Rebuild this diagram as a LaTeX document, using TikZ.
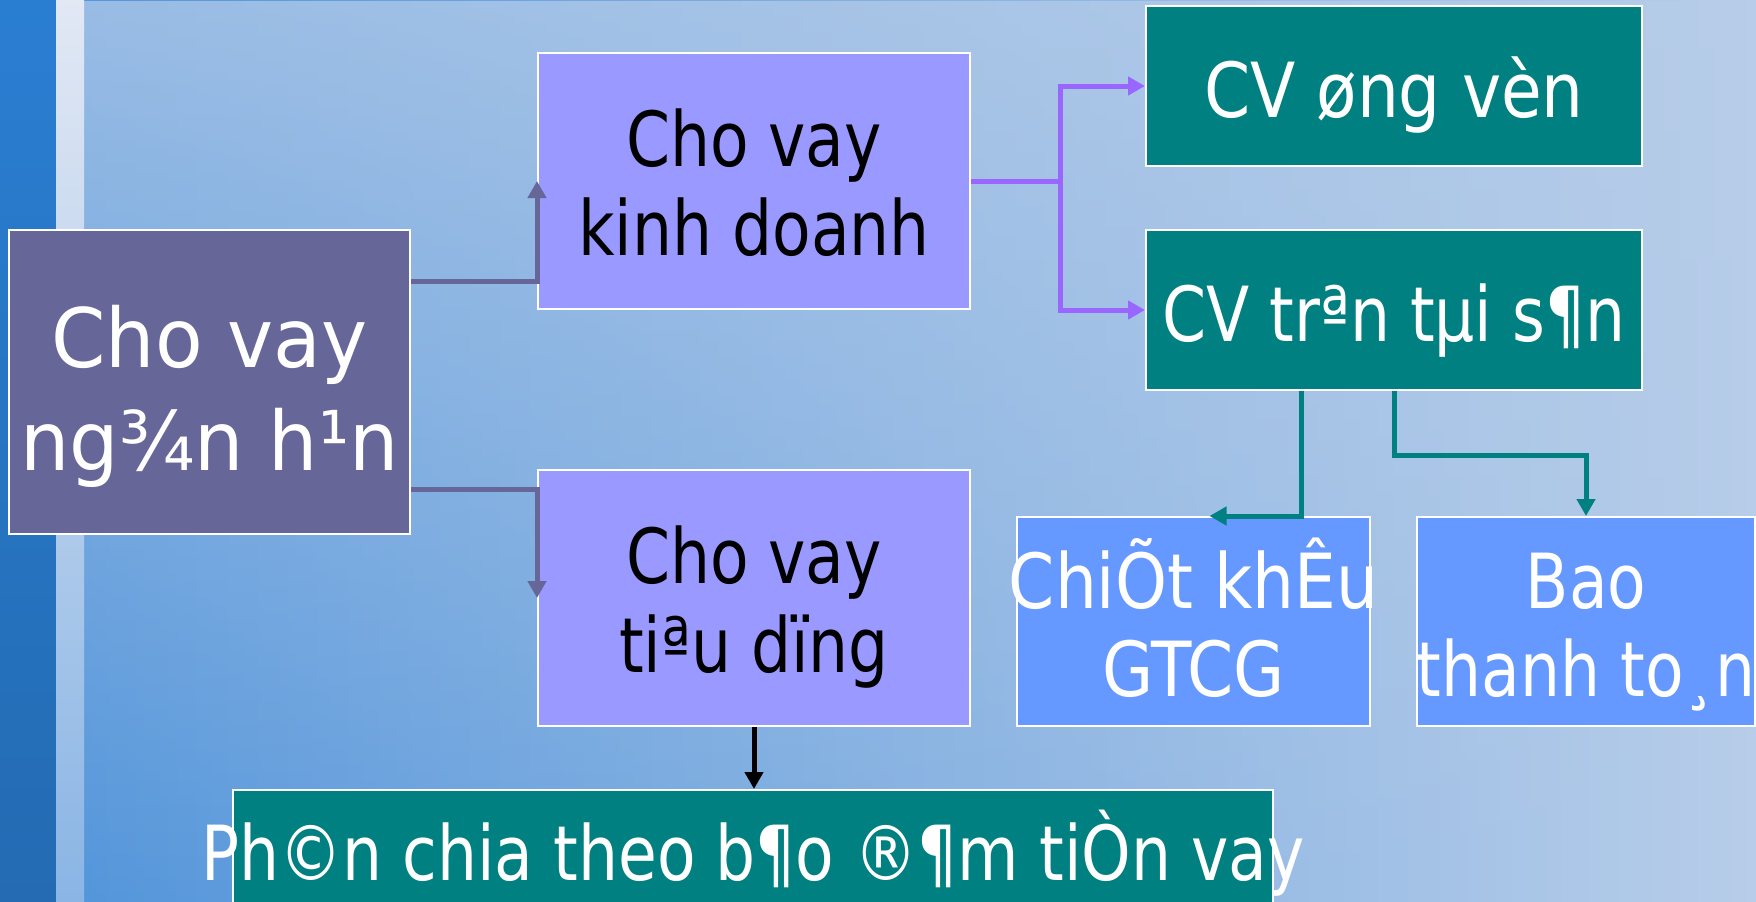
\documentclass[tikz,border=0pt]{standalone}
\usepackage{fontspec}
\setmainfont{DejaVu Sans}
\newfontfamily\wideface[FakeStretch=0.95]{DejaVu Sans}
\newfontfamily\midface[FakeStretch=0.87]{DejaVu Sans}
\newfontfamily\narrowface[FakeStretch=0.83]{DejaVu Sans}
\usetikzlibrary{calc, positioning, arrows.meta, fadings}
\definecolor{bgBand}{HTML}{2A7ED2}
\definecolor{bgDeep}{HTML}{4F93DA}
\definecolor{bgPale}{HTML}{B7CDE9}
\definecolor{stripeC}{HTML}{E2E8F4}
\definecolor{longC}{HTML}{666699}
\definecolor{loanC}{HTML}{9999FF}
\definecolor{tealC}{HTML}{008080}
\definecolor{skyC}{HTML}{6699FF}
\definecolor{violetC}{HTML}{9966FF}
\def\lwBox{1pt}
\def\lwLink{2.5pt}
\def\capFont{\fontsize{38}{44.5}\selectfont}

% text height/depth fix where the last baseline sits in each box
\tikzset{
  box/.style={draw=white, line width=\lwBox, inner sep=0pt, align=center},
  twoline/.style={text height=76pt, text depth=2pt},
  oneline/.style={text height=40pt, text depth=9pt},
  link/.style={line width=\lwLink, -{Triangle[length=8.5pt, width=9pt]}}
}

\begin{document}
\begin{tikzpicture}[x=0.5pt, y=-0.5pt, line join=miter]

  \clip (0,0) rectangle (1756,901);

  % Backdrop
  \shade[left color=bgDeep, right color=bgPale] (0,0) rectangle (1756,901);
  \fill[bgPale, opacity=0.7, path fading=south] (84,0) rectangle (1756,901);
  \shade[top color=bgBand, bottom color=bgBand!85!black] (0,0) rectangle (56,901);
  \shade[top color=stripeC, bottom color=stripeC!40!bgDeep] (56,0) rectangle (84,901);

  % Boxes
  \node[box, fill=longC, text=white, font=\wideface\fontsize{41}{51.5}\selectfont,
        text height=90pt, text depth=2pt,
        minimum width=200.5pt, minimum height=152pt] (ngan) at (209.5,382)
        {Cho vay\\ng¾n h¹n};
  \node[box, twoline, fill=loanC, text=black, font=\narrowface\capFont,
        minimum width=216pt, minimum height=128pt] (kinhdoanh) at (754,181)
        {Cho vay\\kinh doanh};
  \node[box, twoline, fill=loanC, text=black, font=\narrowface\capFont,
        minimum width=216pt, minimum height=128pt] (tieudung) at (754,598)
        {Cho vay\\tiªu dïng};
  \node[box, oneline, fill=tealC, text=white, font=\midface\capFont,
        minimum width=248pt, minimum height=80pt] (ungvon) at (1394,86)
        {CV øng vèn};
  \node[box, oneline, fill=tealC, text=white, font=\narrowface\capFont,
        minimum width=248pt, minimum height=80pt] (taisan) at (1394,310)
        {CV trªn tµi s¶n};
  \node[box, fill=skyC, text=white, font=\midface\fontsize{38}{44}\selectfont,
        text height=76.5pt, text depth=2pt,
        minimum width=176.5pt, minimum height=104.5pt] (chietkhau) at (1193.5,621.5)
        {\makebox[0pt]{ChiÕt khÊu}\\GTCG};
  \node[box, fill=skyC, text=white, font=\narrowface\fontsize{38}{44}\selectfont,
        text height=76.5pt, text depth=2pt,
        minimum width=168pt, minimum height=104.5pt] (bao) at (1586,621.5)
        {Bao\\thanh to¸n};
  \node[box, fill=tealC, text=white, font=\narrowface\capFont,
        minimum width=520pt, minimum height=63pt] (phanchia) at (753,853)
        {\makebox[0pt]{Ph©n chia theo b¶o ®¶m tiÒn vay}};

  % Links
  \draw[link, longC] ([yshift=50.5pt]ngan.east) -| (kinhdoanh.west);
  \draw[link, longC] ([yshift=-53.5pt]ngan.east) -| (tieudung.west);
  \draw[link, violetC] (kinhdoanh.east) -- ++(44.5pt,0) |- (ungvon.west);
  \draw[link, violetC] (kinhdoanh.east) -- ++(44.5pt,0) |- (taisan.west);
  \draw[link, tealC] ([xshift=-46.5pt]taisan.south) |- ([xshift=8pt]chietkhau.north);
  \draw[link, tealC] (taisan.south) -- ++(0,-32pt) -| (bao.north);
  \draw[link, black] (tieudung.south) -- (tieudung.south |- phanchia.north);
\end{tikzpicture}
\end{document}
